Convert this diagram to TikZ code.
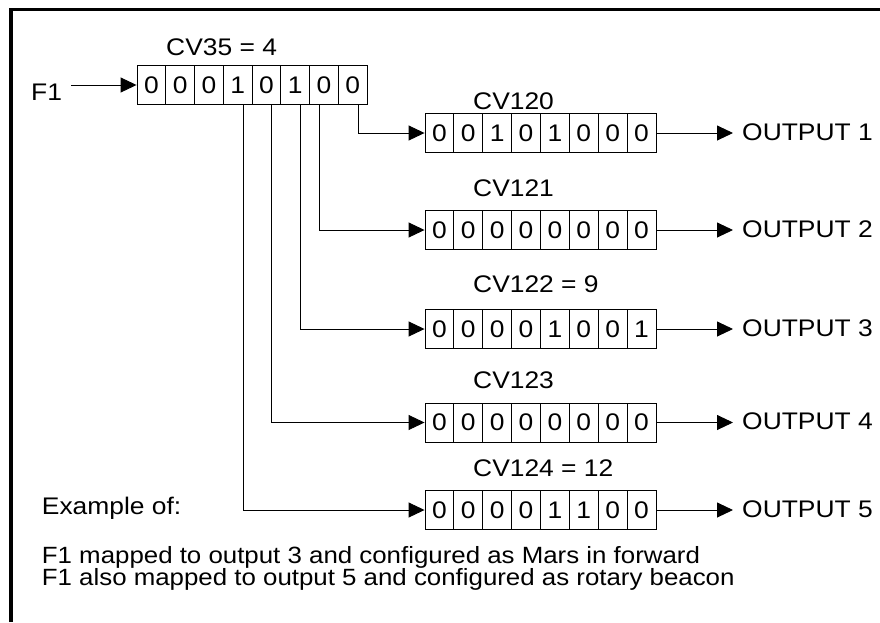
\documentclass[tikz,border=0pt]{standalone}
\usepackage{fontspec}
\setmainfont{Liberation Sans}[FakeStretch=1.1]
\usetikzlibrary{arrows.meta}

\begin{document}
\begin{tikzpicture}[x=1pt, y=-1pt]
	\tikzset{
		every node/.style = {font=\fontsize{24}{27}\selectfont},
		cell/.style = {rectangle, draw, line width=0.9pt, minimum width=28.875pt, minimum height=39pt, inner sep=0pt, text centered},
		txt/.style = {anchor=base west, inner sep=0pt},
		note/.style = {txt, font=\fontsize{23.5}{26}\selectfont},
		link/.style = {line width=0.9pt, -{Triangle[length=16pt, width=15pt]}}
	}
	\useasboundingbox (0, 0) rectangle (880, 622);
	\draw[line width=3.5pt] (11, 622) -- (11, 9.5) -- (880, 9.5);

	% CV35
	\node[txt] (f1) at (31, 100) {F1};
	\node[txt] (cv35) at (166, 55) {CV35 = 4};
	\foreach \b [count=\i] in {0,0,0,1,0,1,0,0}
		\node[cell, minimum width=28.75pt, minimum height=38.6pt] (a\i) at (122.625+28.75*\i, 85) {\b};
	\draw[link] ([xshift=9pt]f1.east |- a1.west) -- (a1.west);

	% output registers
	\foreach \r/\y/\lab/\ly/\bits/\src/\dx in {
		1/133/CV120/109.3/{0,0,1,0,1,0,0,0}/8/5.5,
		2/230/CV121/196.7/{0,0,0,0,0,0,0,0}/7/-4,
		3/329/CV122 = 9/292.3/{0,0,0,0,1,0,0,1}/6/5.5,
		4/422.5/CV123/388.3/{0,0,0,0,0,0,0,0}/5/5.3,
		5/510/CV124 = 12/476/{0,0,0,0,1,1,0,0}/4/5.7}
	{
		\node[txt] (lab\r) at (473, \ly) {\lab};
		\foreach \b [count=\i] in \bits
			\node[cell] (r\r-\i) at (410.56+28.875*\i, \y) {\b};
		\draw[link] ([xshift=\dx pt]a\src.south) |- (r\r-1.west);
		\node[txt] (out\r) at (742, \y+7) {OUTPUT \r};
		\draw[link] (r\r-8.east) -- ([xshift=-9pt]out\r.west |- r\r-8.east);
	}

	\node[txt] (ex) at (41.7, 514) {Example of:};
	\node[note] (note1) at (41.7, 563) {F1 mapped to output 3 and configured as Mars in forward};
	\node[note] (note2) at (41.7, 585.5) {F1 also mapped to output 5 and configured as rotary beacon};
\end{tikzpicture}
\end{document}
